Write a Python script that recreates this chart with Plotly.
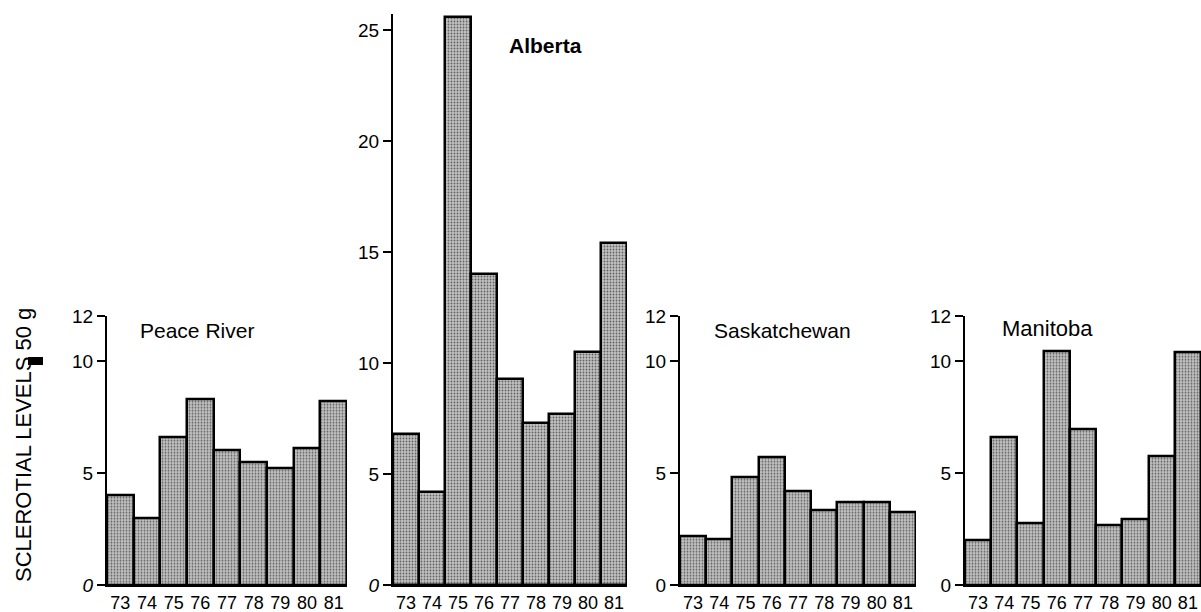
import plotly.graph_objects as go

years = ["73", "74", "75", "76", "77", "78", "79", "80", "81"]
peace_river = [4.0, 3.0, 6.6, 8.3, 6.0, 5.5, 5.2, 6.1, 8.2]
alberta = [6.8, 4.2, 25.6, 14.0, 9.3, 7.3, 7.7, 10.5, 15.4]
saskatchewan = [2.2, 2.05, 4.8, 5.7, 4.2, 3.35, 3.7, 3.7, 3.25]
manitoba = [2.0, 6.6, 2.75, 10.45, 6.95, 2.65, 2.95, 5.75, 10.4]

panel_names = ["Peace River", "Alberta", "Saskatchewan", "Manitoba"]
panel_values = [peace_river, alberta, saskatchewan, manitoba]

W, H = 1201, 612
MT, MB = 14, 27
PH = H - MT - MB  # plot height in px

x_px = [(107, 347), (393, 627), (680, 916), (965, 1201)]
y_max = [12, 25.72, 12, 12]
px_per_unit = [22.4, 22.2, 22.4, 22.4]
tickvals = [[0, 5, 10, 12], [0, 5, 10, 15, 20, 25], [0, 5, 10, 12], [0, 5, 10, 12]]
ticktext = [["<i>0</i>", "5", "10", "12"],
            ["<i>0</i>", "5", "10", "15", "20", "25"],
            ["0", "5", "10", "12"],
            ["0", "5", "10", "12"]]

fig = go.Figure()
font_family = "Liberation Sans, Arial, sans-serif"

for i, (name, vals) in enumerate(zip(panel_names, panel_values)):
    sfx = "" if i == 0 else str(i + 1)
    fig.add_trace(go.Bar(
        x=years, y=vals, xaxis="x" + sfx, yaxis="y" + sfx,
        marker=dict(
            color="#ffffff",
            line=dict(color="black", width=2.5),
            pattern=dict(shape=".", fgcolor="#000000", bgcolor="#c2c2c2",
                         size=3, solidity=0.3),
        ),
        showlegend=False, hoverinfo="skip",
    ))
    x0, x1 = x_px[i]
    top = min(y_max[i] * px_per_unit[i] / PH, 1.0)
    fig.layout["xaxis" + sfx] = dict(
        domain=[x0 / W, x1 / W], anchor="y" + sfx, type="category",
        showline=True, linecolor="black", linewidth=2, ticks="",
        showgrid=False, zeroline=False, automargin=False,
        tickfont=dict(family=font_family, size=18, color="black"),
    )
    fig.layout["yaxis" + sfx] = dict(
        domain=[0, top], anchor="x" + sfx, range=[0, y_max[i]],
        showline=True, linecolor="black", linewidth=2,
        ticks="outside", ticklen=8, tickwidth=2, tickcolor="black",
        tickvals=tickvals[i], ticktext=ticktext[i],
        showgrid=False, zeroline=False, automargin=False,
        tickfont=dict(family=font_family, size=19, color="black"),
    )

def py(p):
    return (H - MB - p) / PH

annotations = [
    dict(text="Peace River", x=197, y=330, size=21),
    dict(text="<b>Alberta</b>", x=545, y=45, size=21),
    dict(text="Saskatchewan", x=782, y=330, size=21),
    dict(text="Manitoba", x=1047, y=328, size=22),
]
for a in annotations:
    fig.add_annotation(text=a["text"], x=a["x"] / W, y=py(a["y"]), xref="paper", yref="paper",
                       showarrow=False, xanchor="center", yanchor="middle",
                       font=dict(family=font_family, size=a["size"], color="black"))

fig.add_annotation(text="SCLEROTIAL LEVELS 50 g", x=23 / W, y=py(445),
                   xref="paper", yref="paper", showarrow=False, textangle=-90,
                   xanchor="center", yanchor="middle",
                   font=dict(family=font_family, size=22, color="black"))

fig.add_shape(type="rect", xref="paper", yref="paper",
              x0=28 / W, x1=43 / W, y0=py(365), y1=py(357),
              fillcolor="black", line=dict(width=0))

fig.update_layout(
    width=W, height=H,
    margin=dict(l=0, r=0, t=MT, b=MB, pad=0),
    plot_bgcolor="white", paper_bgcolor="white",
    bargap=0,
    font=dict(family=font_family, color="black"),
)

fig.write_html("out.html", config={"displayModeBar": False},
               post_script="document.body.style.margin='0px';document.body.style.padding='0px';")
